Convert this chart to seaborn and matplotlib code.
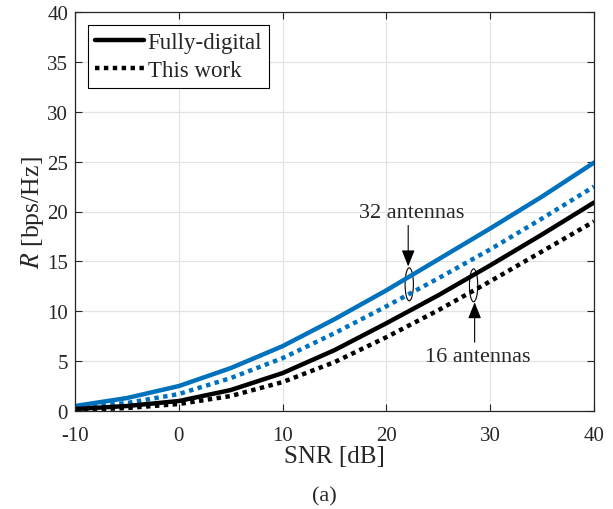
import numpy as np
import pandas as pd
import seaborn as sns
import matplotlib
matplotlib.use("Agg")
import matplotlib.pyplot as plt
from matplotlib.patches import Ellipse

snr_db = [-10, -5, 0, 5, 10, 15, 20, 25, 30, 35, 40]
fd_32 = [0.5, 1.3, 2.5, 4.3, 6.5, 9.2, 12.1, 15.2, 18.3, 21.5, 24.9]
tw_32 = [0.3, 0.8, 1.7, 3.3, 5.3, 7.8, 10.5, 13.3, 16.2, 19.3, 22.5]
fd_16 = [0.2, 0.5, 1.0, 2.1, 3.8, 6.1, 8.8, 11.6, 14.6, 17.7, 20.9]
tw_16 = [0.1, 0.3, 0.7, 1.5, 2.9, 4.9, 7.4, 10.1, 13.0, 16.0, 19.0]
x_ticks = [-10, 0, 10, 20, 30, 40]
y_ticks = [0, 5, 10, 15, 20, 25, 30, 35, 40]

sns.set_theme(style="whitegrid")
plt.rcParams["font.family"] = ["Liberation Serif", "DejaVu Serif"]
plt.rcParams["mathtext.fontset"] = "stix"
plt.rcParams["axes.unicode_minus"] = False

BLUE = "#0072BD"
TXT = "#262626"
fig = plt.figure(figsize=(6.13, 5.10), dpi=100)
ax = fig.add_axes([75/613, 1-412/510, (594-75)/613, (412-13)/510])
ax.set_facecolor("white")

dot = (0, (1, 1))
sns.lineplot(x=snr_db, y=fd_32, ax=ax, color=BLUE, lw=3.2, legend=False)
sns.lineplot(x=snr_db, y=tw_32, ax=ax, color=BLUE, lw=3.2, legend=False)
sns.lineplot(x=snr_db, y=fd_16, ax=ax, color="black", lw=3.2, legend=False)
sns.lineplot(x=snr_db, y=tw_16, ax=ax, color="black", lw=3.2, legend=False)
lines = ax.get_lines()
for ln in (lines[1], lines[3]):
    ln.set_linestyle(dot)
    ln.set_dash_capstyle("butt")

ax.set_xlim(-10, 40)
ax.set_ylim(0, 40)
ax.set_xticks(x_ticks)
ax.set_yticks(y_ticks)
ax.set_xticklabels([str(v) for v in x_ticks])
ax.set_yticklabels([str(v) for v in y_ticks])
ax.grid(True, color="#e3e3e3", lw=0.9)
for s in ax.spines.values():
    s.set_color(TXT)
    s.set_linewidth(0.9)
ax.tick_params(direction="in", length=5, width=0.8, color=TXT,
               top=True, right=True, bottom=True, left=True,
               labelsize=15, labelcolor=TXT)
ax.tick_params(axis="x", pad=11)
ax.tick_params(axis="y", pad=5)
ax.set_xlabel("SNR [dB]", fontsize=18, color=TXT, labelpad=0)
ax.set_ylabel(r"$R$ [bps/Hz]", fontsize=18.5, color=TXT, labelpad=1)

leg = ax.legend([lines[2], lines[3]], ["Fully-digital", "This work"],
                loc="upper left", bbox_to_anchor=(0.025, 0.967),
                fontsize=16.5, frameon=True, fancybox=False,
                edgecolor="black", framealpha=1, handlelength=2.15,
                handletextpad=0.15, borderpad=0.3, labelspacing=0.32,
                borderaxespad=0)
leg.get_frame().set_linewidth(0.8)
for t in leg.get_texts():
    t.set_color(TXT)

# annotations
ax.add_patch(Ellipse((22.2, 12.7), 0.8, 3.3, fill=False, ec="black", lw=0.8))
ax.add_patch(Ellipse((28.4, 12.6), 0.8, 3.3, fill=False, ec="black", lw=0.8))
arrow = dict(arrowstyle="-|>,head_length=0.5,head_width=0.2", color="black",
             lw=0.8, mutation_scale=20, shrinkA=0, shrinkB=0)
ax.annotate("", xy=(22.1, 14.5), xytext=(22.1, 18.6), arrowprops=arrow)
ax.annotate("", xy=(28.5, 10.9), xytext=(28.5, 6.9), arrowprops=arrow)
ax.text(22.45, 19.9, "32 antennas", ha="center", va="center", fontsize=16, color=TXT)
ax.text(28.8, 5.5, "16 antennas", ha="center", va="center", fontsize=16, color=TXT)

fig.text(324/613, 1-497/510, "(a)", ha="center", va="center", fontsize=16, color=TXT)

fig.savefig("out.png", dpi=100, facecolor="white")
